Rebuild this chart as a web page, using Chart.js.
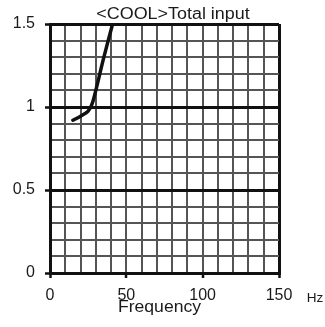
<!DOCTYPE html>
<html>
<head>
<meta charset="utf-8">
<script src="https://cdn.jsdelivr.net/npm/chart.js@4"></script>
<style>
html,body{margin:0;padding:0;background:#fff;}
#c{display:block;}
</style>
</head>
<body>
<canvas id="c" width="325" height="327"></canvas>
<script>
// Data
const frequencyHz = [15, 20, 25, 28, 35, 41];
const totalInput = [0.92, 0.945, 0.975, 1.03, 1.29, 1.5];
const xTickLabels = [0, 50, 100, 150];
const yTickLabels = ['0', '0.5', '1', '1.5'];
const chartTitle = '<COOL>Total input';
const xAxisTitle = 'Frequency';
const xUnit = 'Hz';

const FONT = '"Liberation Sans", Arial, sans-serif';

const textPlugin = {
  id: 'texts',
  afterDraw(chart) {
    const ctx = chart.ctx;
    function drawText(str, cx, baseline, size, sx) {
      ctx.save();
      ctx.font = size + 'px ' + FONT;
      ctx.fillStyle = '#1a1a1a';
      ctx.textAlign = 'center';
      ctx.textBaseline = 'alphabetic';
      ctx.translate(cx, baseline);
      ctx.scale(sx, 1);
      ctx.fillText(str, 0, 0);
      ctx.restore();
    }
    drawText(chartTitle, 173, 19, 16, 1.12);
    drawText(xAxisTitle, 159.5, 312, 16, 1.1);
    drawText(xUnit, 315, 302, 12, 1.13);
  }
};

const xData = frequencyHz.map((f, i) => ({x: f, y: totalInput[i]}));

new Chart(document.getElementById('c'), {
  type: 'line',
  data: {
    datasets: [{
      data: xData,
      borderColor: '#111',
      borderWidth: 3.5,
      pointRadius: 0,
      tension: 0.3,
      fill: false,
      borderCapStyle: 'round'
    }]
  },
  options: {
    responsive: false,
    devicePixelRatio: 1,
    animation: false,
    layout: {padding: {top: 24, right: 46, bottom: 0, left: 0}},
    plugins: {legend: {display: false}, tooltip: {enabled: false}, title: {display: false}},
    scales: {
      x: {
        type: 'linear',
        min: 0, max: 150,
        afterFit(s) { s.height = 54; },
        ticks: {
          stepSize: 10,
          autoSkip: false,
          maxRotation: 0, minRotation: 0,
          padding: 8,
          color: '#1a1a1a',
          font: {family: FONT, size: 16},
          callback: v => xTickLabels.includes(v) ? String(v) : ''
        },
        grid: {
          drawTicks: true,
          tickLength: 5,
          color: c => (c.tick && (c.tick.value === 150 || c.tick.value === 0)) ? '#111' : '#555',
          lineWidth: c => (c.tick && (c.tick.value === 150 || c.tick.value === 0)) ? 3 : 2,
          tickColor: c => (c.tick && xTickLabels.includes(c.tick.value)) ? '#111' : 'rgba(0,0,0,0)',
          tickWidth: 2.5
        },
        border: {display: true, color: '#111', width: 3}
      },
      y: {
        type: 'linear',
        min: 0, max: 1.5,
        afterFit(s) { s.width = 50; },
        ticks: {
          stepSize: 0.1,
          autoSkip: false,
          padding: 10,
          color: '#1a1a1a',
          font: {family: FONT, size: 16},
          callback: v => {
            const s = String(Math.round(v * 10) / 10);
            return yTickLabels.includes(s) ? s : '';
          }
        },
        grid: {
          drawTicks: true,
          tickLength: 5,
          color: c => {
            const r = c.tick ? Math.round(c.tick.value * 10) : 1;
            return r % 5 === 0 ? '#111' : '#555';
          },
          lineWidth: c => {
            const r = c.tick ? Math.round(c.tick.value * 10) : 1;
            return r % 5 === 0 ? 3 : 2;
          },
          tickColor: c => {
            const r = c.tick ? Math.round(c.tick.value * 10) : 1;
            return r % 5 === 0 ? '#111' : 'rgba(0,0,0,0)';
          },
          tickWidth: 2.5
        },
        border: {display: true, color: '#111', width: 3}
      }
    }
  },
  plugins: [textPlugin]
});
</script>
</body>
</html>
